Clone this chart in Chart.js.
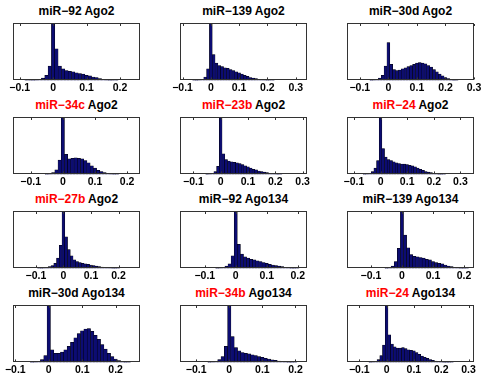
<!DOCTYPE html>
<html>
<head>
<meta charset="utf-8">
<script src="https://cdn.jsdelivr.net/npm/chart.js@4.4.1/dist/chart.umd.min.js"></script>
<style>
  body { margin: 0; background: #fff; width: 491px; height: 391px; position: relative; overflow: hidden;
         font-family: "Liberation Sans", Arial, sans-serif; }
  .ttl { position: absolute; width: 127px; text-align: center; font-weight: bold; font-size: 12px;
         line-height: 14px; color: #000; white-space: nowrap; }
  .ttl .red { color: #f00; }
  .cell { position: absolute; }
</style>
</head>
<body>
<script>
// bin centres of the histograms (bin width 0.01)
const binCenters = [
  -0.10, -0.09, -0.08, -0.07, -0.06, -0.05, -0.04, -0.03, -0.02, -0.01,
  0,
  0.01, 0.02, 0.03, 0.04, 0.05, 0.06, 0.07, 0.08, 0.09, 0.10,
  0.11, 0.12, 0.13, 0.14, 0.15, 0.16, 0.17, 0.18, 0.19, 0.20,
  0.21, 0.22, 0.23, 0.24, 0.25, 0.26, 0.27, 0.28, 0.29, 0.30
];
const tickValues = [-0.1, 0, 0.1, 0.2, 0.3];

// panel titles
const mirNames = ['miR−92', 'miR−139', 'miR−30d', 'miR−34c', 'miR−23b', 'miR−24',
                  'miR−27b', 'miR−92', 'miR−139', 'miR−30d', 'miR−34b', 'miR−24'];
const agoNames = ['Ago2', 'Ago2', 'Ago2', 'Ago2', 'Ago2', 'Ago2',
                  'Ago2', 'Ago134', 'Ago134', 'Ago134', 'Ago134', 'Ago134'];
const mirHighlighted = [false, false, false, true, true, true, true, false, false, false, true, true];

// x range of each panel
const xMins = [-0.12, -0.109, -0.145, -0.155, -0.149, -0.126, -0.183, -0.18, -0.177, -0.107, -0.149, -0.145];
const xMaxs = [0.26, 0.34, 0.30, 0.24, 0.316, 0.351, 0.278, 0.23, 0.232, 0.273, 0.235, 0.32];

// counts, as % of the panel height
const counts92Ago2 = [0, 0, 0.2, 0.3, 0.5, 1, 2, 4, 9, 25, 100,
  55, 25, 20, 17, 16, 15, 13, 12, 11, 9,
  8, 6, 5, 3, 2, 1.2, 0.6, 0.3, 0.2, 0,
  0, 0, 0, 0, 0, 0, 0, 0, 0, 0];
const counts139Ago2 = [0, 0, 0, 0, 0.2, 0.5, 1, 2, 6, 20, 100,
  45, 30, 26, 24, 22, 21, 19, 17, 15, 13,
  11, 9, 7, 5, 4, 3, 2, 1.5, 1, 0.6,
  0.3, 0.2, 0, 0, 0, 0, 0, 0, 0, 0];
const counts30dAgo2 = [0, 0, 0, 0, 0.5, 1, 2, 4, 9, 25, 66,
  28, 19, 17, 18, 20, 22, 24, 26, 28, 30,
  31, 30, 29, 26, 23, 19, 15, 11, 8, 5,
  3, 1.5, 0.7, 0.3, 0, 0, 0, 0, 0, 0];
const counts34cAgo2 = [0, 0, 0, 0, 0, 0.5, 1, 3, 8, 25, 100,
  35, 27, 28, 29, 28, 27, 24, 20, 15, 11,
  7, 5, 3, 2, 1, 0.5, 0.3, 0, 0, 0,
  0, 0, 0, 0, 0, 0, 0, 0, 0, 0];
const counts23bAgo2 = [0, 0, 0, 0, 0, 0.5, 1, 2, 5, 14, 100,
  36, 26, 23, 22, 21, 20, 19, 17, 15, 13,
  11, 9, 8, 6, 5, 4, 3, 2, 1.5, 1,
  0.5, 0.3, 0, 0, 0, 0, 0, 0, 0, 0];
const counts24Ago2 = [0, 0, 0, 0, 0.5, 1, 2, 5, 11, 24, 100,
  45, 30, 26, 24, 22, 20, 19, 18, 18, 17,
  16, 15, 13, 11, 9, 7, 5, 4, 3, 2,
  1.3, 0.8, 0.5, 0.3, 0, 0, 0, 0, 0, 0];
const counts27bAgo2 = [0, 0.3, 0.5, 1, 1.5, 3, 5, 9, 18, 40, 100,
  55, 33, 22, 15, 12, 10, 9, 8, 7, 6,
  5, 4, 3, 2.5, 2, 1.5, 1, 0.7, 0.5, 0.3,
  0, 0, 0, 0, 0, 0, 0, 0, 0, 0];
const counts92Ago134 = [0, 0, 0, 0, 0.5, 1, 2, 4, 8, 22, 100,
  42, 25, 20, 18, 16, 15, 13, 12, 10, 9,
  7, 6, 5, 4, 3, 2, 1.3, 0.8, 0.5, 0.3,
  0, 0, 0, 0, 0, 0, 0, 0, 0, 0];
const counts139Ago134 = [0, 0, 0, 0, 0, 0.5, 1.5, 4, 12, 35, 100,
  58, 36, 24, 21, 20, 19, 18, 16, 15, 12,
  10, 9, 8, 6, 4, 3, 2, 1.3, 0.8, 0.5,
  0.3, 0, 0, 0, 0, 0, 0, 0, 0, 0];
const counts30dAgo134 = [0, 0, 0, 0, 0, 0.5, 1, 2, 5, 12, 100,
  22, 16, 16, 18, 22, 28, 35, 43, 50, 55,
  58, 59, 54, 47, 40, 31, 23, 16, 10, 6,
  3, 1.5, 0.7, 0.3, 0, 0, 0, 0, 0, 0];
const counts34bAgo134 = [0, 0, 0, 0, 0.5, 1, 2, 5, 10, 28, 100,
  45, 26, 20, 17, 16, 15, 13, 12, 10, 9,
  7, 6, 4.5, 3.5, 2.5, 2, 1.3, 0.8, 0.5, 0.3,
  0, 0, 0, 0, 0, 0, 0, 0, 0, 0];
const counts24Ago134 = [0, 0, 0, 0, 0.5, 1, 2, 5, 12, 30, 100,
  48, 32, 27, 25, 25, 26, 24, 22, 21, 20,
  17, 14, 11, 9, 7, 5, 3.5, 2.5, 2, 1.3,
  0.9, 0.6, 0.4, 0.2, 0, 0, 0, 0, 0, 0];

const seriesList = [counts92Ago2, counts139Ago2, counts30dAgo2, counts34cAgo2, counts23bAgo2, counts24Ago2,
                    counts27bAgo2, counts92Ago134, counts139Ago134, counts30dAgo134, counts34bAgo134, counts24Ago134];

// layout of the 4x3 grid
const colLefts = [13, 180, 347];
const rowTops = [23, 117, 211, 305];
const boxW = 127, boxH = 58;
const padL = 12, padR = 12, padT = 2, axisH = 14;

// matlab-like box with inward ticks
const framePlugin = {
  id: 'frame',
  afterDatasetsDraw(chart) {
    const { ctx, chartArea: a, scales: { x } } = chart;
    ctx.save();
    ctx.strokeStyle = '#333';
    ctx.lineWidth = 1;
    ctx.strokeRect(Math.round(a.left) + 0.5, Math.round(a.top) + 0.5,
                   Math.round(a.right - a.left) - 1, Math.round(a.bottom - a.top) - 1);
    x.ticks.forEach(t => {
      const px = Math.round(x.getPixelForValue(t.value)) + 0.5;
      ctx.beginPath();
      ctx.moveTo(px, a.bottom - 1); ctx.lineTo(px, a.bottom - 3);
      ctx.moveTo(px, a.top + 1); ctx.lineTo(px, a.top + 3);
      ctx.stroke();
    });
    ctx.restore();
  }
};

function fmtTick(v) {
  if (v === 0) return '0';
  return (v < 0 ? '−' : '') + Math.abs(v).toFixed(1);
}

seriesList.forEach((counts, i) => {
  const left = colLefts[i % 3];
  const top = rowTops[Math.floor(i / 3)];

  const ttl = document.createElement('div');
  ttl.className = 'ttl';
  ttl.style.left = left + 'px';
  ttl.style.top = (top - 19) + 'px';
  const mir = document.createElement('span');
  mir.textContent = mirNames[i];
  if (mirHighlighted[i]) mir.className = 'red';
  ttl.appendChild(mir);
  ttl.appendChild(document.createTextNode(' ' + agoNames[i]));
  document.body.appendChild(ttl);

  const cell = document.createElement('div');
  cell.className = 'cell';
  cell.style.left = (left - padL) + 'px';
  cell.style.top = (top - padT) + 'px';
  const canvas = document.createElement('canvas');
  const w = boxW + padL + padR, h = boxH + padT + axisH;
  canvas.width = w; canvas.height = h;
  canvas.style.width = w + 'px'; canvas.style.height = h + 'px';
  cell.appendChild(canvas);
  document.body.appendChild(cell);

  new Chart(canvas, {
    type: 'bar',
    data: {
      datasets: [{
        data: binCenters.map((x, j) => ({ x: x, y: counts[j] })),
        backgroundColor: '#0c0c72',
        borderColor: '#000',
        borderWidth: 0.5,
        barPercentage: 1,
        categoryPercentage: 1
      }]
    },
    options: {
      responsive: false,
      animation: false,
      devicePixelRatio: 1,
      layout: { padding: { left: padL, right: padR, top: padT, bottom: 0 } },
      plugins: { legend: { display: false }, tooltip: { enabled: false } },
      scales: {
        x: {
          type: 'linear',
          min: xMins[i],
          max: xMaxs[i],
          offset: false,
          grid: { display: false, drawTicks: false },
          border: { display: false },
          afterBuildTicks: scale => {
            scale.ticks = tickValues.filter(v => v >= scale.min && v <= scale.max).map(v => ({ value: v }));
          },
          ticks: {
            padding: 1,
            color: '#000',
            maxRotation: 0,
            autoSkip: false,
            font: { family: '"Liberation Sans", Arial, sans-serif', size: 10.5, weight: 'bold' },
            callback: v => fmtTick(v)
          }
        },
        y: { display: false, min: 0, max: 100 }
      }
    },
    plugins: [framePlugin]
  });
});
</script>
</body>
</html>
